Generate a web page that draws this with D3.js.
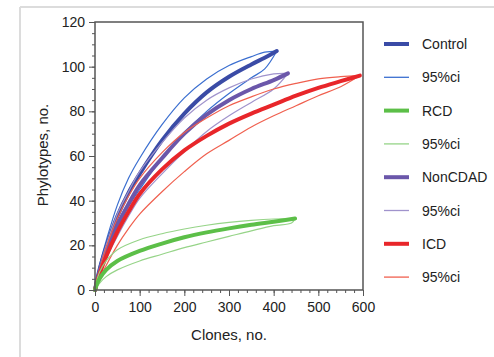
<!DOCTYPE html>
<html><head><meta charset="utf-8">
<script src="https://cdn.jsdelivr.net/npm/d3@7"></script>
<style>body{margin:0;background:#fff}svg{display:block;font-family:"Liberation Sans",Arial,Helvetica,sans-serif}</style>
</head><body><svg id="c" width="494" height="357"></svg>
<script>
// Data
const controlX     = [0,10,25,50,75,100,150,200,250,300,350,380,407];
const controlMean  = [0,9,19,33,43.5,52,67,79,88.5,95.5,101,104,107];
const controlUpper = [0,11,22,38,50,59,74,86,94.5,100.5,104.5,106.5,107];
const controlLower = [0,7,16,28,37.5,45,59,70.5,80,88,95,99,107];

const rcdX      = [0,5,10,25,50,100,150,200,250,300,350,400,448];
const rcdMean   = [0,3,5,9,13,17.5,20.8,23.6,25.8,27.6,29.2,30.6,32];
const rcdUpper  = [0,5,8,13,18,22.5,25.2,27.3,29,30.3,31.2,31.8,32];
const rcdLowerX = [0,5,10,25,50,100,150,200,250,300,350,400,440,448];
const rcdLower  = [0,1.5,3,6,9,13,16,19,21.5,24,26.5,28.8,30,32];

const nonX     = [0,10,25,50,75,100,150,200,250,300,350,400,432];
const nonMean  = [0,8,17,29,38.5,47,59,70,78.5,85,90,94,97];
const nonUpper = [0,10,20,34,44,53,66,77,85,90.5,94.5,96.8,97];
const nonLower = [0,6,14,24,33,41,52,62,71,78,84,90,97];

const icdX     = [0,10,25,50,75,100,150,200,250,300,350,400,450,500,550,593];
const icdMean  = [0,7,15,26,35,43,54,62.5,69,74.5,79,83,87,90.5,93.5,96];
const icdUpper = [0,9,19,32,42,50,61.5,70.5,77,82.5,86.5,90,92.5,94.5,95.5,96];
const icdLower = [0,5,11,20,27.5,34,44,53,61,67,73,78,82.5,87,91,96];

const xTicks = [0,100,200,300,400,500,600];
const yTicks = [0,20,40,60,80,100,120];
const legendLabels = ["Control","95%ci","RCD","95%ci","NonCDAD","95%ci","ICD","95%ci"];

const colors = {
  control:"#3a4ba6", controlCi:"#3b6fd0",
  rcd:"#5cbf48", rcdCi:"#96d488",
  non:"#6b57aa", nonCi:"#a093cc",
  icd:"#e8262a", icdCi:"#f0604f"
};

const svg = d3.select("#c");
// outer faint frame
svg.append("line").attr("x1",20).attr("x2",494).attr("y1",7).attr("y2",7).attr("stroke","#dcdcdc").attr("stroke-width",2);
svg.append("line").attr("x1",20).attr("x2",20).attr("y1",7).attr("y2",357).attr("stroke","#dcdcdc").attr("stroke-width",2);

const L=95,R=363,T=22,B=290;
const x = d3.scaleLinear().domain([0,600]).range([L,R]);
const y = d3.scaleLinear().domain([0,120]).range([B,T]);

const g = svg.append("g");
const line = d3.line().x(d=>x(d[0])).y(d=>y(d[1])).curve(d3.curveCatmullRom.alpha(0.5));
function draw(xs, ys, color, w){
  g.append("path").datum(xs.map((v,i)=>[v,ys[i]]))
   .attr("d",line).attr("fill","none").attr("stroke",color)
   .attr("stroke-width",w).attr("stroke-linecap","round").attr("stroke-linejoin","round");
}
draw(controlX, controlUpper, colors.controlCi, 1.2);
draw(controlX, controlLower, colors.controlCi, 1.2);
draw(controlX, controlMean, colors.control, 4);
draw(nonX, nonUpper, colors.nonCi, 1.2);
draw(nonX, nonLower, colors.nonCi, 1.2);
draw(nonX, nonMean, colors.non, 4);
draw(icdX, icdUpper, colors.icdCi, 1.2);
draw(icdX, icdLower, colors.icdCi, 1.2);
draw(icdX, icdMean, colors.icd, 4);
draw(rcdX, rcdUpper, colors.rcdCi, 1.2);
draw(rcdLowerX, rcdLower, colors.rcdCi, 1.2);
draw(rcdX, rcdMean, colors.rcd, 4);

// axes box
const axisColor="#555";
svg.append("rect").attr("x",L).attr("y",T).attr("width",R-L).attr("height",B-T)
  .attr("fill","none").attr("stroke",axisColor).attr("stroke-width",1.5);

const xa = svg.append("g").attr("transform",`translate(0,${B})`)
  .call(d3.axisBottom(x).tickValues(d3.range(0,601,20)).tickSize(3).tickFormat(""));
xa.select(".domain").remove();
xa.selectAll("line").attr("stroke",axisColor);
const xa2 = svg.append("g").attr("transform",`translate(0,${B})`)
  .call(d3.axisBottom(x).tickValues(xTicks).tickSize(6).tickPadding(6).tickFormat(d3.format("d")));
xa2.select(".domain").remove();
xa2.selectAll("line").attr("stroke",axisColor);
xa2.selectAll("text").attr("font-size",14).attr("fill","#222").attr("font-family","Liberation Sans, Arial, sans-serif");

const ya = svg.append("g").attr("transform",`translate(${L},0)`)
  .call(d3.axisLeft(y).tickValues(d3.range(0,121,5)).tickSize(3).tickFormat(""));
ya.select(".domain").remove();
ya.selectAll("line").attr("stroke",axisColor);
const ya2 = svg.append("g").attr("transform",`translate(${L},0)`)
  .call(d3.axisLeft(y).tickValues(yTicks).tickSize(6).tickPadding(4).tickFormat(d3.format("d")));
ya2.select(".domain").remove();
ya2.selectAll("line").attr("stroke",axisColor);
ya2.selectAll("text").attr("font-size",14).attr("fill","#222").attr("font-family","Liberation Sans, Arial, sans-serif");

svg.append("text").attr("x",229).attr("y",340).attr("text-anchor","middle")
  .attr("font-size",15).attr("fill","#222").text("Clones, no.");
svg.append("text").attr("transform","translate(48,155) rotate(-90)").attr("text-anchor","middle")
  .attr("font-size",15).attr("fill","#222").text("Phylotypes, no.");

// legend
const legColors=[colors.control,colors.controlCi,colors.rcd,colors.rcdCi,colors.non,colors.nonCi,colors.icd,colors.icdCi];
legendLabels.forEach((lab,i)=>{
  const yy = 44 + i*33.3;
  const thick = i%2===0;
  svg.append("line").attr("x1",384).attr("x2",409).attr("y1",yy).attr("y2",yy)
    .attr("stroke",legColors[i]).attr("stroke-width",thick?4:1.3);
  svg.append("text").attr("x",422).attr("y",yy+5).attr("font-size",14).attr("fill","#222").text(lab);
});
</script></body></html>
